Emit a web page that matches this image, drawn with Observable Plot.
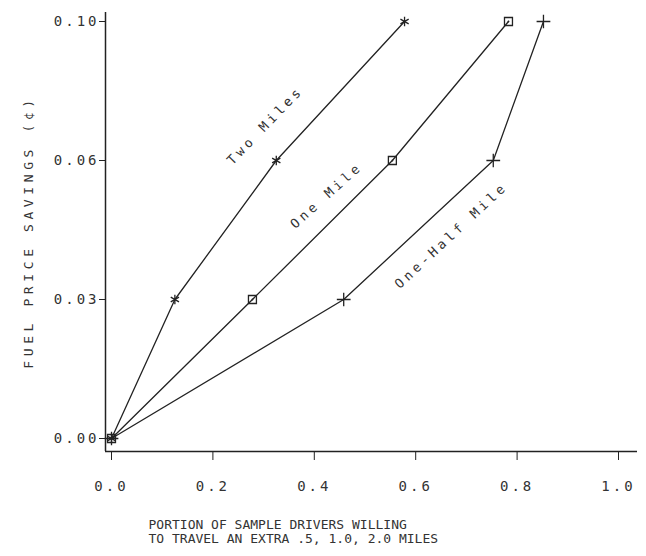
<!DOCTYPE html>
<html><head><meta charset="utf-8">
<script src="https://cdn.jsdelivr.net/npm/d3@7"></script>
<script src="https://cdn.jsdelivr.net/npm/@observablehq/plot@0.6"></script>
<style>
html,body{margin:0;padding:0;background:#fff;}
#chart svg{display:block;}
[aria-label="x-axis tick label"], [aria-label="y-axis tick label"]{letter-spacing:3px;}
[aria-description="curve label"], [aria-description="curve label"] text{letter-spacing:3.6px;}
[aria-description="y title"], [aria-description="y title"] text{letter-spacing:4.6px;}
</style></head><body><div id="chart"></div>
<script>
const seriesNames = ["Two Miles", "One Mile", "One-Half Mile"];
const savingsLevels = [0.00, 0.03, 0.06, 0.10];
const twoMiles = [0, 0.125, 0.325, 0.578];
const oneMile = [0, 0.278, 0.554, 0.783];
const oneHalfMile = [0, 0.458, 0.753, 0.852];
const xTicks = [0, 0.2, 0.4, 0.6, 0.8, 1.0];
const yTitle = "FUEL PRICE SAVINGS (\u00A2)";
const xTitle = "PORTION OF SAMPLE DRIVERS WILLING\nTO TRAVEL AN EXTRA .5, 1.0, 2.0 MILES";

const portions = [twoMiles, oneMile, oneHalfMile];
const table = seriesNames.flatMap((s, i) => savingsLevels.map((v, j) => ({series: s, savings: v, portion: portions[i][j]})));
const anchorAt = (i, j) => [{label: seriesNames[i], portion: portions[i][j], savings: savingsLevels[j]}];

const ink = "#222";
const chart = Plot.plot({
  width: 646, height: 556,
  marginLeft: 105, marginRight: 9, marginTop: 12, marginBottom: 105,
  style: {fontFamily: '"DejaVu Sans Mono", monospace', fontSize: "14px", color: ink, background: "#fff"},
  x: {domain: [0, 1], insetLeft: 6, insetRight: 19},
  y: {type: "point", domain: [...savingsLevels].reverse(), padding: 0.079, align: 0.409},
  symbol: {domain: seriesNames, range: ["asterisk", "square", "plus"]},
  marks: [
    Plot.axisX({ticks: xTicks, tickFormat: ".1f", tickSize: 9, tickPadding: 21, label: null, fill: "#333"}),
    Plot.axisY({tickFormat: ".2f", tickSize: 6, tickPadding: 0, label: null, fill: "#333"}),
    Plot.ruleX([0], {dx: -6, stroke: ink, strokeWidth: 1.5}),
    Plot.ruleY([0], {dy: 13, stroke: ink, strokeWidth: 1.5}),
    Plot.line(table, {x: "portion", y: "savings", z: "series", stroke: ink, strokeWidth: 1.3}),
    Plot.dot(table, {x: "portion", y: "savings", symbol: "series", r: 4.5, stroke: ink, strokeWidth: 1.3, fill: "none"}),
    Plot.dot(table.filter(d => d.series === "One Mile"), {x: "portion", y: "savings", r: 0.9, fill: ink}),
    Plot.text(anchorAt(0, 2), {x: "portion", y: "savings", text: "label", dx: -11, dy: -35, rotate: -46, fontSize: 13, fill: "#333", ariaDescription: "curve label"}),
    Plot.text(anchorAt(1, 2), {x: "portion", y: "savings", text: "label", dx: -66, dy: 35, rotate: -42, fontSize: 13, fill: "#333", ariaDescription: "curve label"}),
    Plot.text(anchorAt(2, 2), {x: "portion", y: "savings", text: "label", dx: -42, dy: 75, rotate: -43, fontSize: 13, fill: "#333", ariaDescription: "curve label"}),
    Plot.text([yTitle], {frameAnchor: "left", textAnchor: "middle", text: d => d, rotate: -90, dx: -77, fontSize: 13, fill: "#333", ariaDescription: "y title"}),
    Plot.text([xTitle], {frameAnchor: "bottom-left", text: d => d, textAnchor: "start", lineAnchor: "top", dx: 43, dy: 67, fontSize: 13, lineHeight: 1.1, fill: "#333", ariaDescription: "x title"})
  ]
});
document.getElementById("chart").appendChild(chart);
</script>
</body></html>
